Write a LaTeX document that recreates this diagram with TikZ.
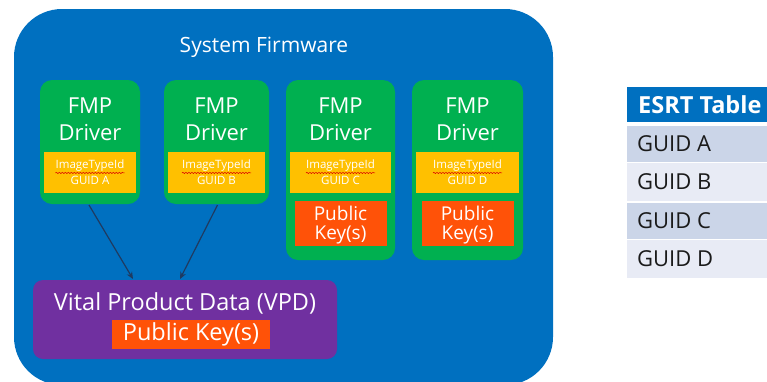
\documentclass[tikz,border=0pt]{standalone}
\usepackage{fontspec}
\setmainfont{Open Sans}
\usetikzlibrary{arrows.meta,decorations.pathmorphing,calc}

\definecolor{fwblue}{HTML}{0070C0}
\definecolor{fmpgreen}{HTML}{00B050}
\definecolor{idyellow}{HTML}{FFC000}
\definecolor{keyorange}{HTML}{FF5208}
\definecolor{vpdpurple}{HTML}{7030A0}
\definecolor{arrownavy}{HTML}{1F3A60}
\definecolor{rowdark}{HTML}{CBD5E8}
\definecolor{rowlight}{HTML}{E8EBF5}
\definecolor{rowtext}{HTML}{1A1A1A}

\newcommand{\fs}[1]{\fontsize{#1}{#1}\selectfont}

\tikzset{
  box/.style={inner sep=0pt, outer sep=0pt, anchor=north west},
  fwbox/.style={box, fill=fwblue, rounded corners=48pt},
  fmpbox/.style={box, fill=fmpgreen, rounded corners=12pt},
  idbox/.style={box, fill=idyellow},
  keybox/.style={box, fill=keyorange},
  vpdbox/.style={box, fill=vpdpurple, rounded corners=10pt},
  bigtxt/.style={text=white, font=\fs{22}, inner sep=0pt},
  keytxt/.style={text=white, font=\fs{19}, inner sep=0pt},
  smalltxt/.style={text=white, font=\fs{11.5}, inner sep=0pt},
  rowbox/.style={box, minimum width=150pt, minimum height=36pt},
  rowtxt/.style={text=rowtext, font=\fs{22}, inner sep=0pt, anchor=west},
  link/.style={draw=arrownavy, line width=1.2pt, -{Stealth[length=7pt,width=6pt]}},
  squiggle/.style={draw=red!85!black, line width=0.5pt,
    decorate, decoration={snake, amplitude=0.7pt, segment length=3pt}}
}

\begin{document}
\begin{tikzpicture}[x=1pt, y=-1pt]
\useasboundingbox (0,0) rectangle (767,381);
\clip (0,0) rectangle (767,381);

% System firmware container
\node[fwbox, minimum width=539pt, minimum height=376pt] (fw) at (14,9) {};
\node[bigtxt, font=\fs{21}] (fwtitle) at (264,47) {System Firmware};

% FMP drivers: name / left x / width / height
\foreach \n/\x/\w/\h in {A/40/100/124, B/164/105/124, C/286/109/180, D/412/111/180}{
  \pgfmathsetmacro{\cx}{\x+\w/2}
  \node[fmpbox, minimum width=\w pt, minimum height=\h pt] (fmp\n) at (\x,80) {};
  \node[bigtxt] (fmpt\n) at (\cx,106) {FMP};
  \node[bigtxt] (drv\n) at (\cx,133) {Driver};
  \node[idbox, minimum width=\w pt-8pt, minimum height=41pt] (id\n) at (\x+4,152) {};
  \node[smalltxt] (itid\n) at (\cx,165.5) {ImageTypeId};
  \draw[squiggle] ($(itid\n.south west)+(0,1.5)$) -- ($(itid\n.south east)+(0,1.5)$);
  \node[smalltxt] (guid\n) at (\cx,180.5) {GUID \n};
}

% Driver-held public keys
\foreach \n in {C,D}{
  \node[keybox, minimum width=92pt, minimum height=45pt, anchor=north] (key\n) at ($(id\n.south)+(0,8)$) {};
  \node[keytxt] (kpub\n) at ($(key\n.center)+(0,-10.5)$) {Public};
  \node[keytxt] (kkey\n) at ($(key\n.center)+(0,11.5)$) {Key(s)};
}

% Vital product data
\node[vpdbox, minimum width=304pt, minimum height=79pt] (vpd) at (33,280) {};
\node[bigtxt, font=\fs{23.5}] (vpdt) at (185,303) {Vital Product Data (VPD)};
\node[keybox, minimum width=158pt, minimum height=29pt] (vkey) at (112,320) {};
\node[bigtxt, font=\fs{23.5}] (vkeyt) at (vkey.center) {Public Key(s)};

% Links from drivers A and B into the VPD
\coordinate (inA) at ($(vpd.north west)+(100,-1)$);
\coordinate (inB) at ($(vpd.north west)+(147,-1)$);
\draw[link] ($(fmpA.south)+(-1,1)$) -- (inA);
\draw[link] ($(fmpB.south)+(1,1)$) -- (inB);

% ESRT table
\node[rowbox, fill=fwblue, minimum height=35pt] (esrt) at (627,87) {};
\node[rowtxt, text=white, font=\bfseries\fs{23.5}] (esrtt) at (638,105) {ESRT Table};
\node[rowbox, fill=rowdark] (rowA) at (627,126) {};
\node[rowbox, fill=rowlight, minimum height=38pt] (rowB) at (627,163) {};
\node[rowbox, fill=rowdark] (rowC) at (627,203) {};
\node[rowbox, fill=rowlight, minimum height=38pt] (rowD) at (627,240) {};
\foreach \n in {A,B,C,D}{
  \node[rowtxt] (rowt\n) at ($(row\n.west)+(10,0)$) {GUID \n};
}
\end{tikzpicture}
\end{document}
